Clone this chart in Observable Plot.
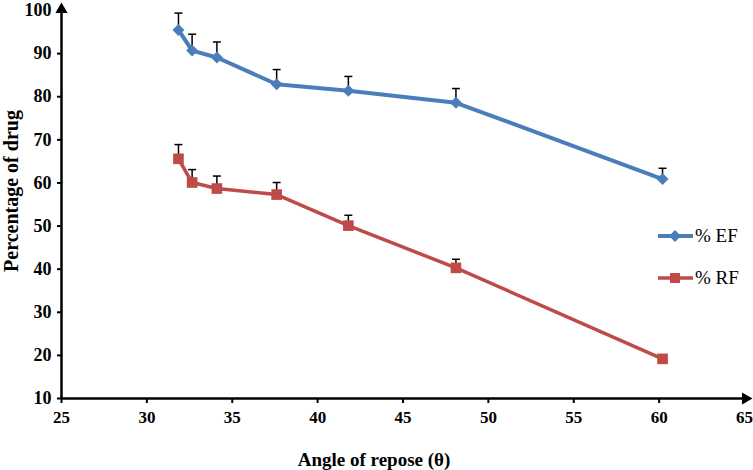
<!DOCTYPE html>
<html>
<head>
<meta charset="utf-8">
<script src="https://cdn.jsdelivr.net/npm/d3@7"></script>
<script src="https://cdn.jsdelivr.net/npm/@observablehq/plot@0.6"></script>
<style>
  html, body { margin: 0; padding: 0; background: #fff; }
  #wrap { position: relative; width: 753px; height: 470px; font-family: "Liberation Serif", "Times New Roman", serif; }
  #wrap svg, #wrap svg text { font-family: "Liberation Serif", "Times New Roman", serif !important; }
  .leg { position: absolute; display: flex; align-items: center; font-size: 19px; color: #000; }
  .leg svg { margin-right: 2px; }
  .ttl { position: absolute; font-weight: bold; color: #000; white-space: nowrap; line-height: 1; }
</style>
</head>
<body>
<div id="wrap"></div>
<script>
const angle = [31.85, 32.65, 34.1, 37.6, 41.8, 48.1, 60.2];
const ef = [95.5, 90.7, 89.1, 82.9, 81.4, 78.6, 60.9];
const efErr = [3.9, 3.8, 3.6, 3.4, 3.3, 3.3, 2.5];
const rf = [65.6, 60.1, 58.7, 57.3, 50.1, 40.3, 19.2];
const rfErr = [3.3, 3.0, 2.9, 2.8, 2.4, 2.0, 0];
const xTicks = [25, 30, 35, 40, 45, 50, 55, 60, 65];
const yTicks = [10, 20, 30, 40, 50, 60, 70, 80, 90, 100];
const seriesNames = ["% EF", "% RF"];
const xTitle = "Angle of repose (θ)";
const yTitle = "Percentage of drug";
const colors = ["#4A7EBB", "#BE4B48"];

const efData = angle.map((a, i) => ({x: a, y: ef[i], e: efErr[i]}));
const rfData = angle.map((a, i) => ({x: a, y: rf[i], e: rfErr[i]}));
const errData = [...efData, ...rfData].filter(d => d.e > 0);

const cap = {draw(ctx) { ctx.moveTo(-4, 0); ctx.lineTo(4, 0); }};

const plot = Plot.plot({
  width: 753,
  height: 470,
  marginLeft: 61,
  marginRight: 9,
  marginTop: 10,
  marginBottom: 72,
  style: {fontFamily: "'Liberation Serif', 'Times New Roman', serif", fontSize: "16px", fontWeight: "bold", color: "#000", background: "#fff"},
  x: {domain: [25, 65]},
  y: {domain: [10, 100]},
  marks: [
    Plot.axisX({ticks: xTicks, tickSize: 5, tickFormat: () => "", label: null, strokeWidth: 2}),
    Plot.axisY({ticks: yTicks, tickSize: 4, tickFormat: () => "", label: null, strokeWidth: 2}),
    Plot.text(xTicks, {x: d => d, y: 10, dy: 19, text: d => String(d), fontSize: 17, fontWeight: "bold", fill: "#000", lineAnchor: "middle"}),
    Plot.text(yTicks, {x: 25, y: d => d, dx: -10, text: d => String(d), fontSize: 18, fontWeight: "bold", fill: "#000", textAnchor: "end"}),
    Plot.ruleX([25], {stroke: "#000", strokeWidth: 2.5}),
    Plot.ruleY([10], {stroke: "#000", strokeWidth: 2.5}),
    Plot.dot([{x: 25, y: 100}], {x: "x", y: "y", symbol: "triangle", r: 4.5, fill: "#000", dy: -1}),
    Plot.dot([{x: 65, y: 10}], {x: "x", y: "y", symbol: "triangle", r: 4.5, fill: "#000", rotate: 90, dx: 1}),
    Plot.link(errData, {x1: "x", x2: "x", y1: "y", y2: d => d.y + d.e, stroke: "#000", strokeWidth: 1.5}),
    Plot.dot(errData, {x: "x", y: d => d.y + d.e, symbol: cap, fill: "none", stroke: "#000", strokeWidth: 1.5}),
    Plot.line(efData, {x: "x", y: "y", stroke: colors[0], strokeWidth: 4}),
    Plot.line(rfData, {x: "x", y: "y", stroke: colors[1], strokeWidth: 3.5}),
    Plot.dot(efData, {x: "x", y: "y", symbol: "diamond2", r: 5.4, fill: colors[0], stroke: "none"}),
    Plot.dot(rfData, {x: "x", y: "y", symbol: "square", r: 6, fill: colors[1], stroke: "none"})
  ]
});

const wrap = document.getElementById("wrap");
wrap.appendChild(plot);

// axis titles
const xt = document.createElement("div");
xt.className = "ttl";
xt.textContent = xTitle;
xt.style.fontSize = "19px";
xt.style.left = "374px";
xt.style.top = "459px";
xt.style.transform = "translate(-50%, -50%)";
wrap.appendChild(xt);

const yt = document.createElement("div");
yt.className = "ttl";
yt.textContent = yTitle;
yt.style.fontSize = "20px";
yt.style.left = "11px";
yt.style.top = "191px";
yt.style.transform = "translate(-50%, -50%) rotate(-90deg)";
wrap.appendChild(yt);

const legendPos = [[658, 236], [658, 278]];
seriesNames.forEach((name, i) => {
  const div = document.createElement("div");
  div.className = "leg";
  div.style.left = legendPos[i][0] + "px";
  div.style.top = (legendPos[i][1] - 12) + "px";
  div.style.height = "24px";
  const sym = i === 0
    ? `<path d="M17,6 L23,12 L17,18 L11,12 Z" fill="${colors[0]}"/>`
    : `<rect x="12" y="7" width="10" height="10" fill="${colors[1]}"/>`;
  div.innerHTML = `<svg width="35" height="24"><line x1="0" y1="12" x2="35" y2="12" stroke="${colors[i]}" stroke-width="${i === 0 ? 4 : 3.5}"/>${sym}</svg><span>${name}</span>`;
  wrap.appendChild(div);
});
</script>
</body>
</html>
